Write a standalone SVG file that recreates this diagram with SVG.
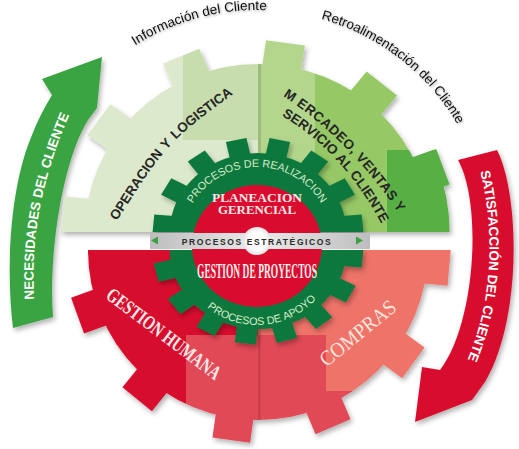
<svg xmlns="http://www.w3.org/2000/svg" width="519" height="449" viewBox="0 0 519 449">
<style>
.sans{font-family:"Liberation Sans",Arial,sans-serif}
.serif{font-family:"Liberation Serif","Times New Roman",serif}
.arcTxt{font-size:13.5px;fill:#111}
.gearTxt{font-size:13.5px;font-weight:bold;fill:#262626}
.arrowTxt{font-size:13.5px;font-weight:bold;fill:#fff}
.inTxt{fill:#d6ecca;font-size:10.8px}
</style>
<defs>
  <filter id="sh" x="-15%" y="-15%" width="130%" height="130%">
    <feDropShadow dx="2" dy="3" stdDeviation="2.5" flood-color="#000" flood-opacity="0.3"/>
  </filter>
  <filter id="tsh" x="-10%" y="-30%" width="120%" height="160%">
    <feDropShadow dx="1" dy="1.2" stdDeviation="0.8" flood-color="#000" flood-opacity="0.35"/>
  </filter>
  <clipPath id="cU"><rect x="0" y="0" width="519" height="232"/></clipPath>
  <clipPath id="cL"><rect x="0" y="250" width="519" height="199"/></clipPath>
  <mask id="mU" maskUnits="userSpaceOnUse" x="0" y="0" width="519" height="449">
    <g fill="#fff" transform="translate(258,232) scale(1.03,1)">
      <path d="M-168 0A168 168 0 0 1 168 0Z"/>
      <rect x="160" y="-19" width="31" height="38" transform="rotate(185)"/>
      <rect x="160" y="-19" width="31" height="38" transform="rotate(216)"/>
      <rect x="160" y="-19" width="31" height="38" transform="rotate(247)"/>
      <rect x="160" y="-19" width="31" height="38" transform="rotate(278)"/>
      <rect x="160" y="-19" width="31" height="38" transform="rotate(309)"/>
      <rect x="160" y="-19" width="31" height="38" transform="rotate(340)"/>
      <path d="M0 0L172.5 -69.7A186 186 0 0 1 186 0Z"/>
    </g>
    <rect x="0" y="232" width="519" height="217" fill="#000"/>
  </mask>
  <mask id="mL" maskUnits="userSpaceOnUse" x="0" y="0" width="519" height="449">
    <g fill="#fff" transform="translate(258,250)">
      <path d="M-170 0A170 170 0 0 0 170 0Z"/>
      <rect x="162" y="-19" width="30" height="38" transform="rotate(5)"/>
      <rect x="162" y="-19" width="30" height="38" transform="rotate(36)"/>
      <rect x="162" y="-19" width="30" height="38" transform="rotate(67)"/>
      <rect x="162" y="-19" width="30" height="38" transform="rotate(98)"/>
      <rect x="162" y="-19" width="30" height="38" transform="rotate(129)"/>
      <rect x="162" y="-19" width="30" height="38" transform="rotate(160)"/>
    </g>
    <rect x="0" y="0" width="519" height="250" fill="#000"/>
  </mask>
  <linearGradient id="barG" x1="0" x2="1" y1="0" y2="0">
    <stop offset="0" stop-color="#bdbdbd"/>
    <stop offset="0.5" stop-color="#ececec"/>
    <stop offset="1" stop-color="#bdbdbd"/>
  </linearGradient>
  <radialGradient id="dotG">
    <stop offset="0.65" stop-color="#ffffff"/>
    <stop offset="1" stop-color="#e2e2e2"/>
  </radialGradient>
  <path id="pI" d="M81 92.5A231 231 0 0 1 337 23.9"/>
  <path id="pR" d="M269.1 10.3A231 231 0 0 1 478.6 172.5"/>
  <path id="pN" d="M36 330C30 260 32 195 76 100"/>
  <path id="pS" d="M474 150C494 210 500 300 458 380"/>
  <path id="pO" d="M113 227C161.6 151.4 165.2 142.2 239 90"/>
  <path id="pM1" d="M279.5 94Q347.75 136.75 401 216.5"/>
  <path id="pM2" d="M281.7 115.8Q342.8 151.8 381.5 223.8"/>
  <path id="pPR" d="M182 242A75 75 0 0 1 332 242"/>
  <path id="pPA" d="M177 245A80 80 0 0 0 337 245"/>
</defs>

<rect width="519" height="449" fill="#fff"/>

<g id="connectors">
  <g id="arrow-necesidades" filter="url(#sh)">
    <path d="M13 328C5 260 12 185 30 140Q39 116 52 95L42 79L102 57L97 108L88 120C64 158 48 250 53 317Z" fill="#3aa443"/>
  </g>
  <g id="arrow-satisfaccion" filter="url(#sh)">
    <path d="M458 160L497 150C520 195 522 320 485 382L472 400L415 422L422 367L440 370C475 325 483 205 458 160Z" fill="#d8102f"/>
  </g>
</g>

<g id="gears-upper" filter="url(#sh)">
  <g mask="url(#mU)">
    <rect x="0" y="0" width="258" height="232" fill="#dde9cc"/>
    <rect x="183" y="0" width="75" height="140" fill="#c7ddad"/>
    <rect x="258" y="0" width="261" height="232" fill="#97c866"/>
    <rect x="258" y="0" width="57" height="232" fill="#b3d68c"/>
    <rect x="387" y="150" width="132" height="82" fill="#59b045"/>
    <rect x="258" y="40" width="3" height="192" fill="#000" opacity="0.12"/>
  </g>
</g>

<g id="gears-lower" filter="url(#sh)">
  <g mask="url(#mL)">
    <rect x="0" y="250" width="258" height="199" fill="#d70b2f"/>
    <rect x="258" y="250" width="261" height="199" fill="#ee7368"/>
    <path d="M186 335H326V391H519V449H186Z" fill="#e14957"/>
    <rect x="258" y="250" width="2.5" height="199" fill="#000" opacity="0.12"/>
  </g>
</g>

<g id="node-procesos" filter="url(#sh)" fill="#0f783c">
  <g clip-path="url(#cU)">
    <g transform="translate(258,232) scale(1.05,0.94)">
      <path d="M-84 0A84 84 0 0 1 84 0Z"/>
      <rect x="78" y="-10" width="22" height="20" transform="rotate(185)"/>
      <rect x="78" y="-10" width="22" height="20" transform="rotate(209)"/>
      <rect x="78" y="-10" width="22" height="20" transform="rotate(234)"/>
      <rect x="78" y="-10" width="22" height="20" transform="rotate(258)"/>
      <rect x="78" y="-10" width="22" height="20" transform="rotate(282)"/>
      <rect x="78" y="-10" width="22" height="20" transform="rotate(306)"/>
      <rect x="78" y="-10" width="22" height="20" transform="rotate(331)"/>
      <rect x="78" y="-10" width="22" height="20" transform="rotate(355)"/>
    </g>
  </g>
  <g clip-path="url(#cL)">
    <g transform="translate(258,250) scale(1.05,0.94)">
      <path d="M-84 0A84 84 0 0 0 84 0Z"/>
      <rect x="78" y="-10" width="22" height="20" transform="rotate(5)"/>
      <rect x="78" y="-10" width="22" height="20" transform="rotate(28)"/>
      <rect x="78" y="-10" width="22" height="20" transform="rotate(51)"/>
      <rect x="78" y="-10" width="22" height="20" transform="rotate(74)"/>
      <rect x="78" y="-10" width="22" height="20" transform="rotate(97)"/>
      <rect x="78" y="-10" width="22" height="20" transform="rotate(120)"/>
      <rect x="78" y="-10" width="22" height="20" transform="rotate(143)"/>
      <rect x="78" y="-10" width="22" height="20" transform="rotate(166)"/>
    </g>
  </g>
</g>

<g id="node-centro">
  <ellipse cx="257" cy="246" rx="65" ry="61" fill="#d90b2e"/>
</g>

<g id="node-estrategicos">
  <rect x="150" y="233" width="220" height="16" fill="url(#barG)"/>
  <circle cx="257" cy="241" r="14" fill="url(#dotG)"/>
  <polygon points="151,240.5 158,236.5 158,244.5" fill="#3aa040"/>
  <polygon points="363,240.5 356,236.5 356,244.5" fill="#3aa040"/>
  <text class="sans" x="257" y="245" text-anchor="middle" font-size="8.5" font-weight="bold" letter-spacing="1.6" fill="#2b2b2b">PROCESOS ESTRATÉGICOS</text>
</g>

<g id="node-planeacion">
  <text class="serif" x="257" y="202" text-anchor="middle" font-size="13.5" font-weight="bold" fill="#fde6e6" textLength="90" lengthAdjust="spacingAndGlyphs">PLANEACION</text>
  <text class="serif" x="257" y="214" text-anchor="middle" font-size="13.5" font-weight="bold" fill="#fde6e6" textLength="78" lengthAdjust="spacingAndGlyphs">GERENCIAL</text>
</g>

<g id="node-proyectos">
  <text class="serif" x="257" y="278" text-anchor="middle" font-size="21" font-weight="bold" fill="#fff0ef" textLength="120" lengthAdjust="spacingAndGlyphs">GESTION DE PROYECTOS</text>
</g>

<g id="node-realizacion">
  <text class="sans inTxt"><textPath href="#pPR" startOffset="50%" text-anchor="middle">PROCESOS DE REALIZACION</textPath></text>
</g>
<g id="node-apoyo">
  <text class="sans inTxt" font-size="10.5"><textPath href="#pPA" startOffset="52.5%" text-anchor="middle">PROCESOS DE APOYO</textPath></text>
</g>

<g id="node-operacion">
  <text class="sans gearTxt"><textPath href="#pO" startOffset="50%" text-anchor="middle">OPERACION<tspan dx="5">Y</tspan><tspan dx="5">LOGISTICA</tspan></textPath></text>
</g>

<g id="node-mercadeo">
  <text class="sans gearTxt" letter-spacing="0.5"><textPath href="#pM1" startOffset="50%" text-anchor="middle">M<tspan dx="4">ERCADEO, VENTAS Y</tspan></textPath></text>
  <text class="sans gearTxt" letter-spacing="0.1"><textPath href="#pM2" startOffset="50%" text-anchor="middle">SERVICIO AL CLIENTE</textPath></text>
</g>

<g id="node-humana">
  <text class="serif" transform="translate(159.8,339.1) rotate(37)" text-anchor="middle" font-size="20" font-weight="bold" fill="#fde8e8" textLength="138" lengthAdjust="spacingAndGlyphs">GESTION HUMANA</text>
</g>

<g id="node-compras">
  <text class="serif" transform="translate(362.1,338.5) rotate(-39.2)" text-anchor="middle" font-size="21" fill="#fde5df" textLength="92" lengthAdjust="spacingAndGlyphs">COMPRAS</text>
</g>

<g id="labels">
  <text class="sans arcTxt" filter="url(#tsh)"><textPath href="#pI" startOffset="50%" text-anchor="middle">Información del Cliente</textPath></text>
  <text class="sans arcTxt" filter="url(#tsh)"><textPath href="#pR" startOffset="50%" text-anchor="middle">Retroalimentación del Cliente</textPath></text>
  <text class="sans arrowTxt"><textPath href="#pN" startOffset="53%" text-anchor="middle">NECESIDADES DEL CLIENTE</textPath></text>
  <text class="sans arrowTxt"><textPath href="#pS" startOffset="50%" text-anchor="middle">SATISFACCIÓN DEL CLIENTE</textPath></text>
</g>
</svg>
